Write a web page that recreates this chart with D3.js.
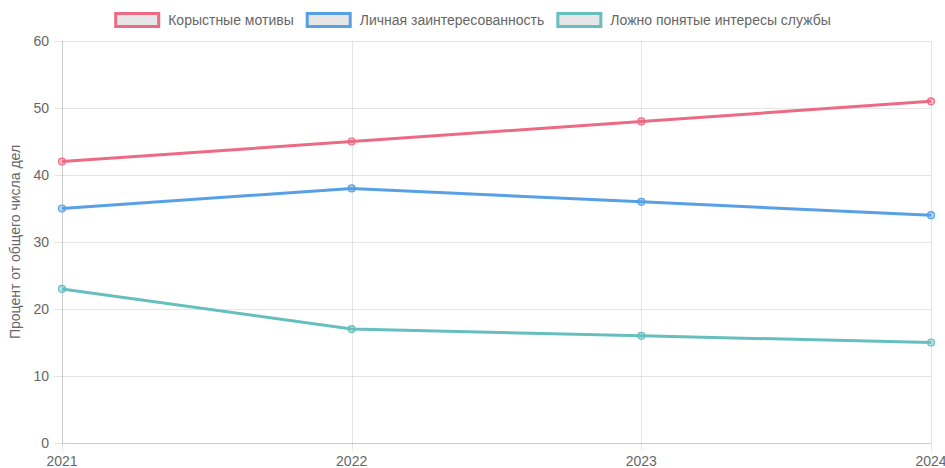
<!DOCTYPE html>
<html>
<head>
<meta charset="utf-8">
<script src="https://cdn.jsdelivr.net/npm/d3@7"></script>
<style>
  body { margin: 0; background: #fff; }
  svg text { font-family: "Liberation Sans", Arial, Helvetica, sans-serif; font-size: 14px; fill: #666; }
</style>
</head>
<body>
<div id="chart"></div>
<script>
// data
const years = ["2021", "2022", "2023", "2024"];
const seriesNames = ["Корыстные мотивы", "Личная заинтересованность", "Ложно понятые интересы службы"];
const selfish = [42, 45, 48, 51];
const personal = [35, 38, 36, 34];
const service = [23, 17, 16, 15];
const yTicks = [0, 10, 20, 30, 40, 50, 60];
const yLabel = "Процент от общего числа дел";

const colors = ["#ec6a83", "#58a0e6", "#66bfbe"];
const fills = ["rgba(236,106,131,0.45)", "rgba(88,160,230,0.45)", "rgba(102,191,190,0.45)"];

const width = 945, height = 468;
const margin = { top: 41, right: 14, bottom: 25, left: 62 };

const svg = d3.select("#chart").append("svg")
  .attr("width", width)
  .attr("height", height);

const x = d3.scalePoint().domain(years).range([margin.left, width - margin.right]);
const y = d3.scaleLinear().domain([0, 60]).range([height - margin.bottom, margin.top]);

// grid
const grid = svg.append("g");
grid.selectAll("line.h").data(yTicks).join("line")
  .attr("class", "h")
  .attr("x1", margin.left - 8).attr("x2", width - margin.right)
  .attr("y1", d => Math.round(y(d)) + 0.5).attr("y2", d => Math.round(y(d)) + 0.5)
  .attr("stroke", "rgba(0,0,0,0.1)");
grid.selectAll("line.v").data(years).join("line")
  .attr("class", "v")
  .attr("x1", d => Math.round(x(d)) + 0.5).attr("x2", d => Math.round(x(d)) + 0.5)
  .attr("y1", margin.top).attr("y2", height - margin.bottom + 8)
  .attr("stroke", "rgba(0,0,0,0.1)");
// axis borders
svg.append("line")
  .attr("x1", margin.left).attr("x2", width - margin.right)
  .attr("y1", Math.round(y(0)) + 0.5).attr("y2", Math.round(y(0)) + 0.5)
  .attr("stroke", "rgba(0,0,0,0.1)");
svg.append("line")
  .attr("x1", Math.round(margin.left) + 0.5).attr("x2", Math.round(margin.left) + 0.5)
  .attr("y1", margin.top).attr("y2", y(0))
  .attr("stroke", "rgba(0,0,0,0.1)");

// tick labels
svg.append("g").selectAll("text").data(yTicks).join("text")
  .attr("x", margin.left - 13)
  .attr("y", d => y(d))
  .attr("dy", "0.35em")
  .attr("text-anchor", "end")
  .text(d => d);
svg.append("g").selectAll("text").data(years).join("text")
  .attr("x", d => x(d))
  .attr("y", height - 2)
  .attr("text-anchor", "middle")
  .text(d => d);

svg.append("text")
  .attr("transform", `translate(20,${(margin.top + height - margin.bottom) / 2}) rotate(-90)`)
  .attr("text-anchor", "middle")
  .text(yLabel);

// lines
const allSeries = [selfish, personal, service];
const line = d3.line().x((d, i) => x(years[i])).y(d => y(d));

allSeries.forEach((vals, k) => {
  svg.append("path")
    .datum(vals)
    .attr("fill", "none")
    .attr("stroke", colors[k])
    .attr("stroke-width", 3)
    .attr("d", line);
  svg.append("g").selectAll("circle").data(vals).join("circle")
    .attr("cx", (d, i) => x(years[i]))
    .attr("cy", d => y(d))
    .attr("r", 3.5)
    .attr("fill", fills[k])
    .attr("stroke", colors[k])
    .attr("stroke-width", 1.2);
});

// legend
const legend = svg.append("g");
const boxW = 46, gap = 8, pad = 12;
const widths = seriesNames.map(n => {
  const t = legend.append("text").text(n);
  const w = t.node().getComputedTextLength();
  t.remove();
  return boxW + gap + w;
});
const total = d3.sum(widths) + pad * (widths.length - 1);
let cx = (width - total) / 2;
seriesNames.forEach((n, k) => {
  legend.append("rect")
    .attr("x", cx + 1.5).attr("y", 13.5)
    .attr("width", boxW - 3).attr("height", 13)
    .attr("fill", "#e6e6e6")
    .attr("stroke", colors[k])
    .attr("stroke-width", 3);
  legend.append("text")
    .attr("x", cx + boxW + gap)
    .attr("y", 20)
    .attr("dy", "0.35em")
    .text(n);
  cx += widths[k] + pad;
});
</script>
</body>
</html>
